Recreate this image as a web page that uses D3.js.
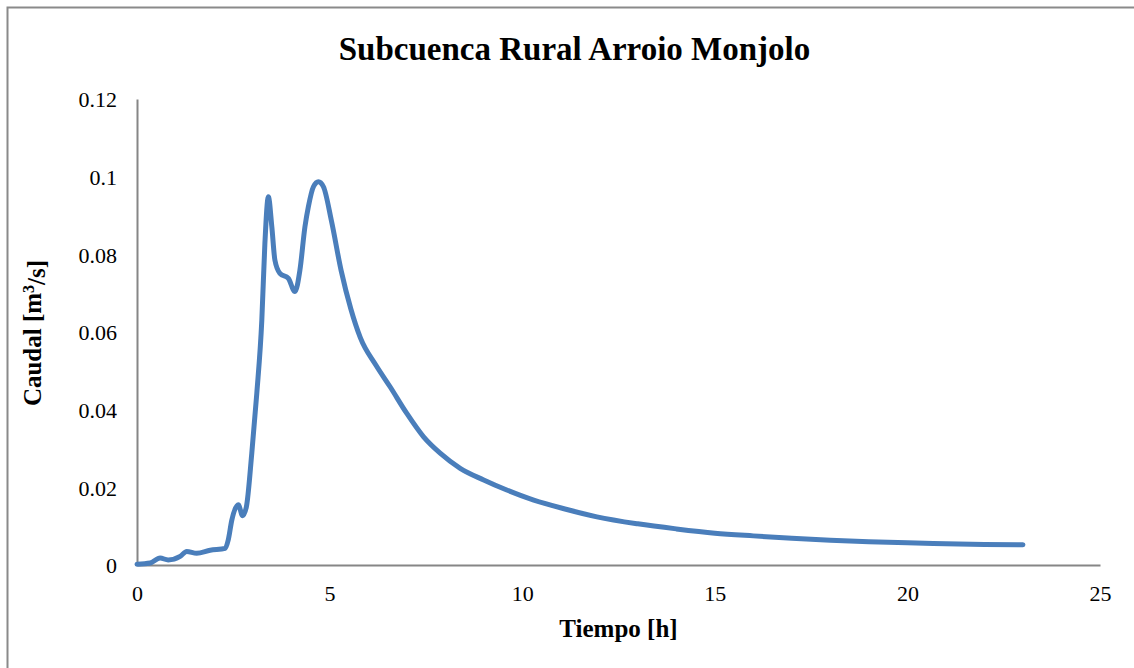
<!DOCTYPE html>
<html>
<head>
<meta charset="utf-8">
<script src="https://d3js.org/d3.v7.min.js"></script>
<style>
  html, body { margin: 0; padding: 0; background: #fff; }
  svg { display: block; }
  text { font-family: "Liberation Serif", "Times New Roman", serif; fill: #000; }
</style>
</head>
<body>
<svg id="chart" width="1134" height="668"></svg>
<script>
const titleText = "Subcuenca Rural Arroio Monjolo";
const xLabel = "Tiempo [h]";
const xTicks = [0, 5, 10, 15, 20, 25];
const yTicks = [0, 0.02, 0.04, 0.06, 0.08, 0.1, 0.12];
const tiempo = [0, 0.34, 0.6, 0.81, 1.12, 1.29, 1.55, 1.9, 2.29, 2.37, 2.46, 2.63, 2.74, 2.84, 2.98, 3.11, 3.24, 3.32, 3.41, 3.5, 3.58, 3.71, 3.93, 4.1, 4.23, 4.36, 4.45, 4.58, 4.71, 4.84, 5.05, 5.3, 5.55, 5.8, 6.2, 6.57, 7.0, 7.44, 7.87, 8.39, 9.0, 9.6, 10.3, 11.16, 11.94, 13, 14, 15, 16, 17, 18, 19, 20, 21, 22, 23];
const caudal = [0.0002, 0.0005, 0.0018, 0.0013, 0.0022, 0.0035, 0.003, 0.0038, 0.0043, 0.0065, 0.0115, 0.0155, 0.0127, 0.015, 0.0288, 0.0442, 0.063, 0.0828, 0.0948, 0.0871, 0.0785, 0.0751, 0.0738, 0.0704, 0.076, 0.0871, 0.0923, 0.0974, 0.0987, 0.0974, 0.0885, 0.0758, 0.066, 0.0585, 0.0515, 0.0459, 0.0391, 0.033, 0.0288, 0.0249, 0.0219, 0.0193, 0.0167, 0.0143, 0.0124, 0.0106, 0.0093, 0.0082, 0.0075, 0.0069, 0.0064, 0.006, 0.0057, 0.0055, 0.0053, 0.0052];

const data = tiempo.map((t, i) => ({ t, q: caudal[i] }));
const svg = d3.select("#chart");

// outer frame (only left and top edges visible)
svg.append("path").attr("d", "M7.5,668 L7.5,7.5 L1134,7.5")
  .attr("fill", "none").attr("stroke", "#8a8a8a").attr("stroke-width", 2);

const x = d3.scaleLinear().domain([0, 25]).range([137, 1100]);
const y = d3.scaleLinear().domain([0, 0.12]).range([565, 99]);

// axes
const xAxis = svg.append("g").attr("transform", `translate(0,${y(0)})`)
  .call(d3.axisBottom(x).tickValues(xTicks).tickSize(0).tickPadding(20).tickFormat(d3.format("d")));
const yAxis = svg.append("g").attr("transform", `translate(${x(0)},0)`)
  .call(d3.axisLeft(y).tickValues(yTicks).tickSize(0).tickPadding(20).tickFormat(d => d === 0 ? "0" : String(+d.toFixed(2))));
[xAxis, yAxis].forEach(g => {
  g.select(".domain").attr("stroke", "#868686").attr("stroke-width", 2);
  g.selectAll("text").style("font-family", "'Liberation Serif', serif").style("font-size", "22px").attr("fill", "#000");
});
yAxis.selectAll("text").attr("dy", "0.35em");
xAxis.selectAll("text").attr("dy", "0.71em");

// line
const line = d3.line().x(d => x(d.t)).y(d => y(d.q)).curve(d3.curveMonotoneX);
svg.append("path").datum(data).attr("d", line)
  .attr("fill", "none").attr("stroke", "#4a7ebb").attr("stroke-width", 5)
  .attr("stroke-linejoin", "round").attr("stroke-linecap", "round");

// title
svg.append("text").attr("x", 574.5).attr("y", 60).attr("text-anchor", "middle")
  .style("font-size", "33px").style("font-weight", "bold").text(titleText);

// x label
svg.append("text").attr("x", 618.5).attr("y", 637).attr("text-anchor", "middle")
  .style("font-size", "25px").style("font-weight", "bold").text(xLabel);

// y label
const yl = svg.append("text").attr("transform", "translate(41,333) rotate(-90)")
  .attr("text-anchor", "middle").style("font-size", "25px").style("font-weight", "bold");
yl.append("tspan").text("Caudal [m");
yl.append("tspan").attr("dy", "-0.45em").style("font-size", "16px").text("3");
yl.append("tspan").attr("dy", "0.45em").text("/s]");
</script>
</body>
</html>
